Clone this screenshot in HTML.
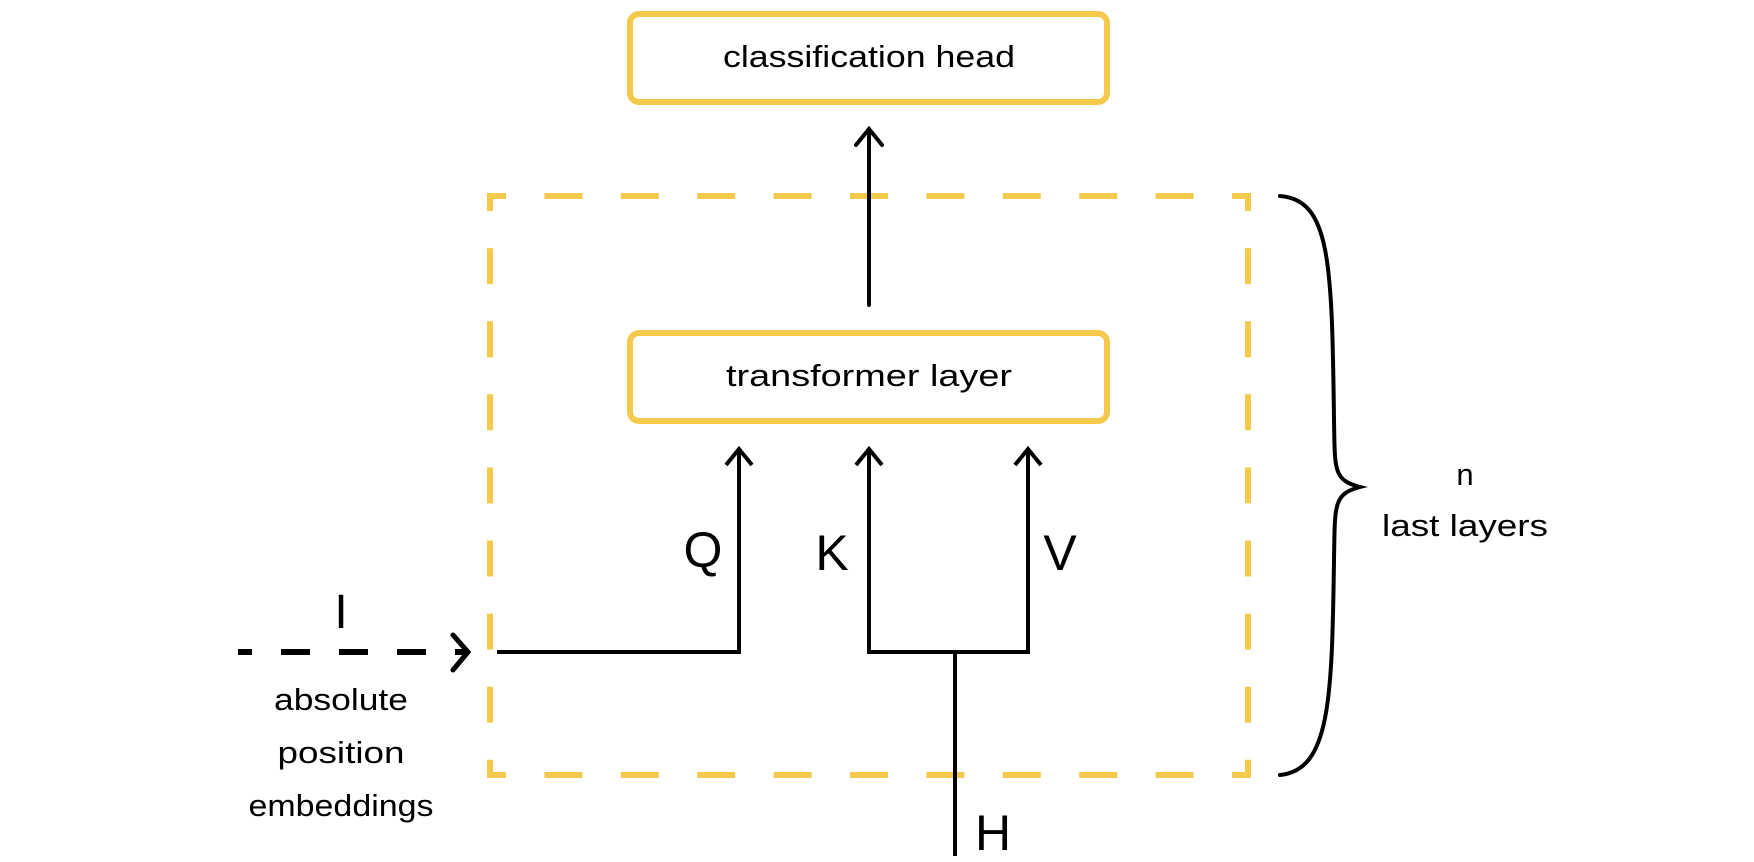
<!DOCTYPE html>
<html><head><meta charset="utf-8"><style>html,body{margin:0;padding:0;background:#fff}svg{display:block}</style></head>
<body>
<svg width="1754" height="862" viewBox="0 0 1754 862" xmlns="http://www.w3.org/2000/svg">
<g font-family="Liberation Sans, sans-serif" fill="#000">
<g fill="none" stroke="#f4c94c" stroke-width="6" stroke-linecap="butt">
<path d="M487 196 H1251 M487 775 H1251" stroke-dasharray="38 38.4" stroke-dashoffset="19"/>
<path d="M490 193 V778 M1248 193 V778" stroke-dasharray="36 37.1" stroke-dashoffset="18"/>
</g>
<rect x="630" y="14" width="477" height="88" rx="9" fill="none" stroke="#f4c94c" stroke-width="6"/>
<rect x="630" y="333" width="477" height="88" rx="9" fill="none" stroke="#f4c94c" stroke-width="6"/>
<text x="869" y="67" font-size="31" text-anchor="middle" textLength="292" lengthAdjust="spacingAndGlyphs">classification head</text>
<text x="869" y="386" font-size="31" text-anchor="middle" textLength="286" lengthAdjust="spacingAndGlyphs">transformer layer</text>
<g stroke="#000" stroke-width="4" fill="none" stroke-linecap="round" stroke-linejoin="miter">
<path d="M869 305 V129 M856 145 L869 129 L882 145"/>
<path d="M497 652 H739 V449 M726 465 L739 449 L752 465" stroke-linecap="butt"/>
<path d="M869 449 V652 H1028 V449 M856 465 L869 449 L882 465 M1015 465 L1028 449 L1041 465" stroke-linecap="butt"/>
<path d="M955 652 V856" stroke-linecap="butt"/>
<path d="M238 652 H465" stroke-width="6" stroke-dasharray="14 29 29 29 29 29 29 29 29 29" stroke-linecap="butt"/>
<path d="M453 635 L468 652 L453 670" stroke-width="5"/>
<path d="M1280 196 C1330 200 1332 260 1334 420 C1335 470 1333 480 1360 487 C1333 494 1335 505 1334 560 C1332 700 1330 770 1280 775" stroke-width="4"/>
</g>
<text x="341" y="628" font-size="48" text-anchor="middle">I</text>
<text x="703" y="567" font-size="50" text-anchor="middle">Q</text>
<text x="832" y="570" font-size="50" text-anchor="middle">K</text>
<text x="1060" y="570" font-size="50" text-anchor="middle">V</text>
<text x="993" y="850" font-size="50" text-anchor="middle">H</text>
<text x="341" y="710" font-size="31" text-anchor="middle" textLength="134" lengthAdjust="spacingAndGlyphs">absolute</text>
<text x="341" y="763" font-size="31" text-anchor="middle" textLength="127" lengthAdjust="spacingAndGlyphs">position</text>
<text x="341" y="816" font-size="31" text-anchor="middle" textLength="185" lengthAdjust="spacingAndGlyphs">embeddings</text>
<text x="1465" y="485" font-size="31" text-anchor="middle">n</text>
<text x="1465" y="536" font-size="31" text-anchor="middle" textLength="166" lengthAdjust="spacingAndGlyphs">last layers</text>
</g>
</svg>
</body></html>
